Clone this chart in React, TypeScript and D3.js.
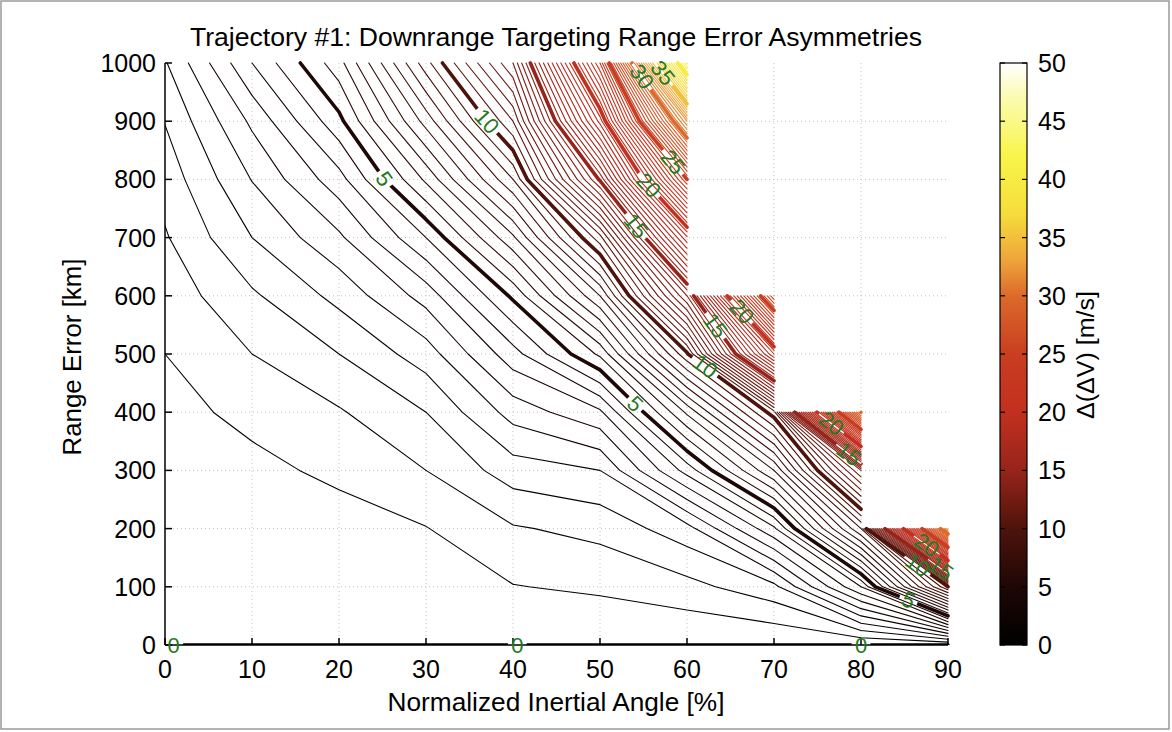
import React, { useMemo } from 'react';
import * as d3 from 'd3';

// ---- axes ----
const angleTicks = [0, 10, 20, 30, 40, 50, 60, 70, 80, 90];
const rangeTicks = [0, 100, 200, 300, 400, 500, 600, 700, 800, 900, 1000];
const barTicks = [0, 5, 10, 15, 20, 25, 30, 35, 40, 45, 50];

// ---- grid of Δ(ΔV) [m/s]: one array per normalized inertial angle, indexed by range error ----
const angles = [0, 10, 20, 30, 40, 50, 60, 70, 80, 90];
const ranges = [0, 100, 200, 300, 400, 500, 600, 700, 800, 900, 1000];
const dvAngle0 = [0, 0.05, 0.12, 0.22, 0.35, 0.5, 0.7, 0.95, 1.2, 1.52, 1.95];
const dvAngle10 = [0, 0.08, 0.2, 0.38, 0.62, 1.0, 1.42, 2.0, 2.52, 3.1, 4.0];
const dvAngle20 = [0, 0.15, 0.3, 0.6, 0.95, 1.5, 2.15, 2.9, 3.8, 4.85, 5.8];
const dvAngle30 = [0, 0.23, 0.48, 1.0, 1.5, 2.25, 3.2, 4.5, 6.1, 7.7, 9.3];
const dvAngle40 = [0, 0.48, 0.95, 1.75, 2.7, 3.8, 5.1, 6.9, 9.0, 11.0, 13.0];
const dvAngle50 = [0, 0.59, 1.15, 2.0, 3.4, 5.6, 8.0, 10.8, 15.1, 19.2, 23.0];
const dvAngle60 = [0, 0.83, 1.8, 4.2, 6.6, 9.9, 14.0, 18.9, 25.0, 32.0, 42.0];
const dvAngle70 = [0, 1.35, 3.9, 7.0, 10.3, 19.0, 27.0];
const dvAngle80 = [0, 4.0, 8.5, 13.0, 30.0];
const dvAngle90 = [0, 10.0, 32.0];
const dvColumns = [dvAngle0, dvAngle10, dvAngle20, dvAngle30, dvAngle40, dvAngle50, dvAngle60, dvAngle70, dvAngle80, dvAngle90];

// contour levels
const levelStep = 0.5;
const levelMax = 50;
const majorEvery = 5;

// inline contour labels: level and the spot (angle, range) they sit near
const labelSpots = [
  { level: 0, a: 1, r: 0 },
  { level: 0, a: 40.5, r: 0 },
  { level: 0, a: 80, r: 0 },
  { level: 5, a: 25.3, r: 802 },
  { level: 5, a: 53.7, r: 409 },
  { level: 5, a: 85.5, r: 79 },
  { level: 10, a: 36.5, r: 893 },
  { level: 10, a: 61.5, r: 467 },
  { level: 10, a: 85.7, r: 120 },
  { level: 15, a: 54.3, r: 722 },
  { level: 15, a: 63, r: 546 },
  { level: 15, a: 77.6, r: 309 },
  { level: 15, a: 88.5, r: 117 },
  { level: 20, a: 55.4, r: 787 },
  { level: 20, a: 66.1, r: 570 },
  { level: 20, a: 76, r: 369 },
  { level: 20, a: 86.9, r: 158 },
  { level: 25, a: 58.4, r: 830 },
  { level: 30, a: 54.3, r: 971 },
  { level: 35, a: 56.9, r: 979 },
];

// hot-style colour map
const cmapStops = [0, 5, 10, 15, 20, 25, 30, 33, 37, 42, 47, 50];
const cmapColors = ['#000000', '#1e0705', '#4e130b', '#97241a', '#c2301f', '#c93e21', '#dc6a2b', '#eea43a', '#f6dc3c', '#f9f54a', '#fbfbb0', '#ffffff'];

type Pt = [number, number];
type Seg = [Pt, Pt];

function nodeValue(i: number, j: number): number {
  const col = dvColumns[i];
  return j < col.length ? col[j] : NaN;
}

// marching squares on the (angle, range) grid
function traceLevel(level: number): Seg[] {
  const segs: Seg[] = [];
  for (let i = 0; i < angles.length - 1; i++) {
    for (let j = 0; j < ranges.length - 1; j++) {
      const c: [number, number, number][] = [
        [angles[i], ranges[j], nodeValue(i, j)],
        [angles[i + 1], ranges[j], nodeValue(i + 1, j)],
        [angles[i + 1], ranges[j + 1], nodeValue(i + 1, j + 1)],
        [angles[i], ranges[j + 1], nodeValue(i, j + 1)],
      ];
      if (c.some((p) => Number.isNaN(p[2]))) continue;
      const pts: Pt[] = [];
      for (let e = 0; e < 4; e++) {
        const p = c[e];
        const q = c[(e + 1) % 4];
        if (p[2] === level && q[2] === level) {
          segs.push([[p[0], p[1]], [q[0], q[1]]]);
          continue;
        }
        if ((p[2] < level) !== (q[2] < level)) {
          const t = (level - p[2]) / (q[2] - p[2]);
          pts.push([p[0] + t * (q[0] - p[0]), p[1] + t * (q[1] - p[1])]);
        }
      }
      if (pts.length === 2) segs.push([pts[0], pts[1]]);
      else if (pts.length === 4) {
        const mid = (c[0][2] + c[1][2] + c[2][2] + c[3][2]) / 4;
        if ((mid < level) === (c[0][2] < level)) {
          segs.push([pts[0], pts[1]]);
          segs.push([pts[2], pts[3]]);
        } else {
          segs.push([pts[3], pts[0]]);
          segs.push([pts[1], pts[2]]);
        }
      }
    }
  }
  return segs;
}

const FONT = "'Liberation Sans', Arial, Helvetica, sans-serif";

export default function App() {
  const left = 165, right = 948, top = 63, bottom = 645;
  const x = d3.scaleLinear().domain([0, 90]).range([left, right]);
  const y = d3.scaleLinear().domain([0, 1000]).range([bottom, top]);
  const color = d3
    .scaleLinear<string>()
    .domain(cmapStops)
    .range(cmapColors)
    .interpolate(d3.interpolateRgb)
    .clamp(true);

  const contourSets = useMemo(() => {
    const lv = d3.range(0, levelMax + levelStep / 2, levelStep);
    return lv.map((level) => ({ level, segs: traceLevel(level) }));
  }, []);

  const segPath = (segs: Seg[]) =>
    segs.map(([p, q]) => `M${x(p[0]).toFixed(2)},${y(p[1]).toFixed(2)}L${x(q[0]).toFixed(2)},${y(q[1]).toFixed(2)}`).join('');

  // place each label on the nearest point of its contour, rotated along it
  const labels = labelSpots.map((s, k) => {
    const set = contourSets.find((c) => Math.abs(c.level - s.level) < 1e-9);
    const sx = x(s.a), sy = y(s.r);
    let best = { d: Infinity, px: sx, py: sy, ang: 0 };
    if (set) {
      for (const [p, q] of set.segs) {
        const ax = x(p[0]), ay = y(p[1]), bx = x(q[0]), by = y(q[1]);
        const dx = bx - ax, dy = by - ay;
        const L2 = dx * dx + dy * dy;
        let t = L2 > 0 ? ((sx - ax) * dx + (sy - ay) * dy) / L2 : 0;
        t = Math.max(0, Math.min(1, t));
        const px = ax + t * dx, py = ay + t * dy;
        const d = (px - sx) ** 2 + (py - sy) ** 2;
        if (d < best.d) {
          let ang = (Math.atan2(dy, dx) * 180) / Math.PI;
          if (ang > 90) ang -= 180;
          if (ang < -90) ang += 180;
          best = { d, px, py, ang };
        }
      }
    }
    return { key: k, level: s.level, text: String(s.level), ...best };
  });

  const labelFont = 22;
  const gapW = (t: string) => t.length * labelFont * 0.58 + 6;
  const gapH = labelFont * 0.85;

  const majors = contourSets.filter((c) => Math.abs(c.level / majorEvery - Math.round(c.level / majorEvery)) < 1e-9);
  const minors = contourSets.filter((c) => !majors.includes(c));

  const barX0 = 1000, barX1 = 1027;
  const cb = d3.scaleLinear().domain([0, 50]).range([bottom, top]);
  const gradStops = d3.range(0, 50.01, 1);

  return (
    <svg
      width={1172}
      height={732}
      style={{ position: 'absolute', left: 0, top: 0, background: '#ffffff' }}
      fontFamily={FONT}
    >
      <defs>
        <clipPath id="plotClip">
          <rect x={left} y={top - 2} width={right - left + 2} height={bottom - top + 2} />
        </clipPath>
        <linearGradient id="cbGrad" x1="0" y1="1" x2="0" y2="0">
          {gradStops.map((v) => (
            <stop key={v} offset={`${(v / 50) * 100}%`} stopColor={color(v)} />
          ))}
        </linearGradient>
        {majors.map((m) => (
          <mask id={`gap${m.level}`} key={m.level} maskUnits="userSpaceOnUse" x={0} y={0} width={1172} height={732}>
            <rect x={0} y={0} width={1172} height={732} fill="#fff" />
            {labels
              .filter((l) => l.level === m.level)
              .map((l) => (
                <rect
                  key={l.key}
                  x={-gapW(l.text) / 2}
                  y={-gapH / 2}
                  width={gapW(l.text)}
                  height={gapH}
                  fill="#000"
                  transform={`translate(${l.px},${l.py}) rotate(${l.ang})`}
                />
              ))}
          </mask>
        ))}
      </defs>

      {/* page frame */}
      <rect x={1} y={1} width={1168} height={728} fill="none" stroke="#9a9a9a" strokeWidth={1.5} />

      {/* dotted grid */}
      <g stroke="#c4c4c4" strokeWidth={1} strokeDasharray="1,3">
        {angleTicks.slice(1, -1).map((t) => (
          <line key={`gx${t}`} x1={x(t)} x2={x(t)} y1={top} y2={bottom} />
        ))}
        {rangeTicks.slice(1, -1).map((t) => (
          <line key={`gy${t}`} x1={left} x2={right} y1={y(t)} y2={y(t)} />
        ))}
      </g>

      {/* contour lines */}
      <g clipPath="url(#plotClip)" fill="none" strokeLinecap="round" strokeLinejoin="round">
        {minors.map((c) => (
          <path key={c.level} d={segPath(c.segs)} stroke={color(c.level)} strokeWidth={1.1} />
        ))}
        {majors.map((c) => (
          <path
            key={c.level}
            d={segPath(c.segs)}
            stroke={color(c.level)}
            strokeWidth={3.6}
            mask={`url(#gap${c.level})`}
          />
        ))}
      </g>

      {/* axes */}
      <g stroke="#000" strokeWidth={1.5} fill="none">
        <line x1={left} x2={left} y1={top} y2={bottom} />
        <line x1={left} x2={right} y1={bottom} y2={bottom} />
        {angleTicks.map((t) => (
          <line key={`tx${t}`} x1={x(t)} x2={x(t)} y1={bottom} y2={bottom - 7} />
        ))}
        {rangeTicks.map((t) => (
          <line key={`ty${t}`} x1={left} x2={left + 7} y1={y(t)} y2={y(t)} />
        ))}
      </g>

      {/* contour labels */}
      <g fill="#237a23" fontSize={labelFont}>
        {labels.map((l) => (
          <text
            key={l.key}
            textAnchor="middle"
            dominantBaseline="central"
            transform={`translate(${l.px},${l.py}) rotate(${l.ang})`}
          >
            {l.text}
          </text>
        ))}
      </g>

      {/* tick labels */}
      <g fontSize={25} fill="#000">
        {angleTicks.map((t) => (
          <text key={`lx${t}`} x={x(t)} y={bottom + 33} textAnchor="middle">
            {t}
          </text>
        ))}
        {rangeTicks.map((t) => (
          <text key={`ly${t}`} x={left - 9} y={y(t)} textAnchor="end" dominantBaseline="central">
            {t}
          </text>
        ))}
      </g>

      {/* titles */}
      <text x={556} y={46} textAnchor="middle" fontSize={25} fill="#000" textLength={732} lengthAdjust="spacingAndGlyphs">
        Trajectory #1: Downrange Targeting Range Error Asymmetries
      </text>
      <text x={556} y={711} textAnchor="middle" fontSize={25} fill="#000" textLength={337} lengthAdjust="spacingAndGlyphs">
        Normalized Inertial Angle [%]
      </text>
      <text
        transform={`translate(72,357) rotate(-90)`}
        textAnchor="middle"
        dominantBaseline="central"
        fontSize={25}
        fill="#000"
        textLength={197}
        lengthAdjust="spacingAndGlyphs"
      >
        Range Error [km]
      </text>

      {/* colour bar */}
      <rect x={barX0} y={top} width={barX1 - barX0} height={bottom - top} fill="url(#cbGrad)" />
      <rect x={barX0} y={top} width={barX1 - barX0} height={bottom - top} fill="none" stroke="#000" strokeWidth={1.2} />
      <g stroke="#000" strokeWidth={1.2}>
        {barTicks.map((t) => (
          <g key={`cbt${t}`}>
            <line x1={barX0} x2={barX0 + 5} y1={cb(t)} y2={cb(t)} />
            <line x1={barX1} x2={barX1 - 5} y1={cb(t)} y2={cb(t)} />
          </g>
        ))}
      </g>
      <g fontSize={25} fill="#000">
        {barTicks.map((t) => (
          <text key={`cbl${t}`} x={barX1 + 11} y={cb(t)} dominantBaseline="central">
            {t}
          </text>
        ))}
      </g>
      <text
        transform={`translate(1086,355) rotate(-90)`}
        textAnchor="middle"
        dominantBaseline="central"
        fontSize={23}
        fill="#000"
        textLength={128}
        lengthAdjust="spacingAndGlyphs"
      >
        Δ(ΔV) [m/s]
      </text>
    </svg>
  );
}
